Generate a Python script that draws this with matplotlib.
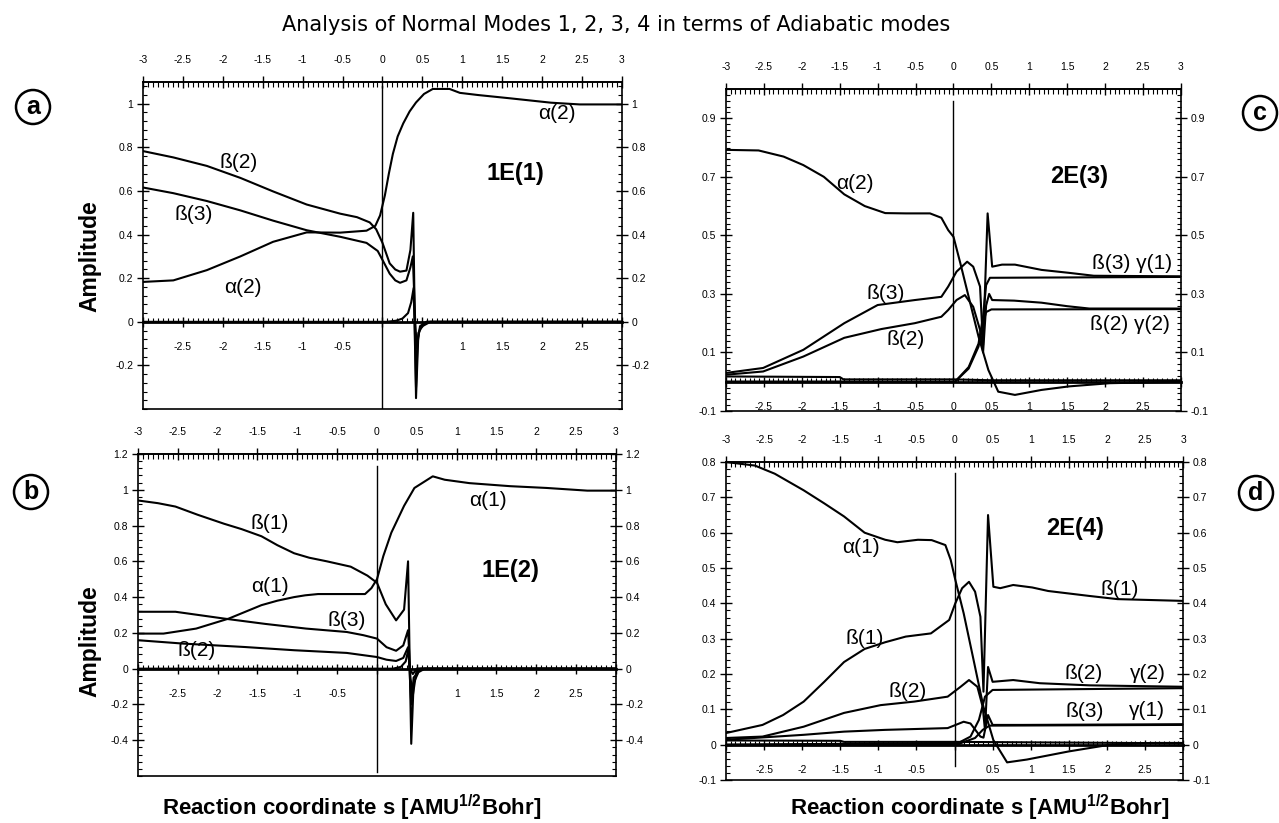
import matplotlib.pyplot as plt
from matplotlib.ticker import MultipleLocator, AutoMinorLocator, FixedLocator, FuncFormatter

plt.rcParams['font.family'] = ['Liberation Sans', 'DejaVu Sans']
plt.rcParams['mathtext.fontset'] = 'custom'
plt.rcParams['mathtext.rm'] = 'Liberation Sans'
plt.rcParams['mathtext.bf'] = 'Liberation Sans:bold'

# ==================== (a) mode 1E(1) ====================
a_alpha2_s = [-3, -2.62, -2.2, -1.78, -1.37, -0.95, -0.87, -0.53, -0.2, -0.09, -0.03, 0.03, 0.08,
              0.13, 0.19, 0.26, 0.34, 0.42, 0.52, 0.63, 0.84, 0.97, 1.2, 1.6, 2.11, 2.47, 3.0]
a_alpha2 = [0.183, 0.19, 0.237, 0.30, 0.367, 0.41, 0.41, 0.409, 0.418, 0.44, 0.488, 0.58, 0.68,
            0.77, 0.85, 0.91, 0.965, 1.006, 1.045, 1.068, 1.068, 1.05, 1.04, 1.025, 1.005, 0.997,
            0.997]
a_beta2_s = [-3, -2.62, -2.2, -1.78, -1.37, -0.95, -0.53, -0.32, -0.16, -0.08, 0.0, 0.09, 0.16,
             0.22, 0.30, 0.35, 0.385, 0.40, 0.42, 0.45, 0.5, 0.6, 3.0]
a_beta2 = [0.783, 0.754, 0.715, 0.66, 0.598, 0.538, 0.496, 0.48, 0.456, 0.425, 0.362, 0.268, 0.24,
           0.23, 0.235, 0.33, 0.50, 0.12, -0.35, -0.05, -0.02, 0.0, 0.0]
a_beta3_s = [-3, -2.62, -2.2, -1.78, -1.37, -0.95, -0.53, -0.2, -0.06, 0.0, 0.09, 0.16, 0.22, 0.30,
             0.35, 0.38, 0.41, 0.43, 0.47, 0.55, 3.0]
a_beta3 = [0.616, 0.59, 0.554, 0.511, 0.464, 0.42, 0.39, 0.362, 0.325, 0.284, 0.221, 0.19, 0.179,
           0.19, 0.25, 0.30, 0.0, -0.12, -0.02, 0.0, 0.0]
a_other_s = [-3, 0.05, 0.17, 0.25, 0.32, 0.36, 0.39, 0.42, 0.44, 0.47, 0.55, 3.0]
a_other = [0.0, 0.0, 0.005, 0.015, 0.04, 0.09, 0.155, -0.3, -0.08, -0.03, 0.0, 0.0]
a_yticks = [-0.2, 0, 0.2, 0.4, 0.6, 0.8, 1]

# ==================== (b) mode 1E(2) ====================
b_alpha1_s = [-3, -2.68, -2.27, -1.86, -1.45, -1.25, -1.04, -0.9, -0.74, -0.15, -0.07, 0.0, 0.08,
              0.18, 0.34, 0.47, 0.70, 0.85, 1.16, 1.67, 2.13, 2.64, 3.0]
b_alpha1 = [0.196, 0.196, 0.224, 0.28, 0.355, 0.38, 0.40, 0.41, 0.417, 0.417, 0.45, 0.50, 0.63,
            0.76, 0.91, 1.01, 1.075, 1.056, 1.037, 1.02, 1.01, 0.995, 0.995]
b_beta1_s = [-3, -2.75, -2.53, -2.25, -1.92, -1.7, -1.45, -1.25, -1.04, -0.85, -0.63, -0.33, -0.12,
             0.0, 0.11, 0.24, 0.34, 0.39, 0.41, 0.43, 0.46, 0.52, 0.6, 3.0]
b_beta1 = [0.94, 0.925, 0.906, 0.86, 0.81, 0.78, 0.74, 0.69, 0.645, 0.62, 0.60, 0.57, 0.52, 0.48,
           0.36, 0.27, 0.33, 0.60, 0.05, -0.42, -0.08, -0.02, 0.0, 0.0]
b_beta3_s = [-3, -2.53, -1.92, -1.4, -0.89, -0.38, -0.17, 0.0, 0.12, 0.24, 0.33, 0.39, 0.42,
             0.45, 0.5, 3.0]
b_beta3 = [0.318, 0.318, 0.28, 0.25, 0.224, 0.205, 0.187, 0.168, 0.12, 0.10, 0.13, 0.215, -0.05,
           -0.15, 0.0, 0.0]
b_beta2_s = [-3, -2.43, -1.66, -1.04, -0.38, 0.0, 0.12, 0.24, 0.33, 0.39, 0.41, 0.45, 0.5, 3.0]
b_beta2 = [0.159, 0.14, 0.121, 0.103, 0.088, 0.065, 0.05, 0.043, 0.06, 0.12, 0.0, -0.03, 0.0, 0.0]
b_other_s = [-3, 0.2, 0.3, 0.36, 0.395, 0.43, 0.46, 0.55, 3.0]
b_other = [0.0, 0.0, 0.01, 0.04, 0.11, -0.2, -0.05, 0.0, 0.0]
b_yticks = [-0.4, -0.2, 0, 0.2, 0.4, 0.6, 0.8, 1, 1.2]

# ==================== (c) mode 2E(3) ====================
c_alpha2_s = [-3, -2.57, -2.24, -1.98, -1.71, -1.44, -1.17, -0.9, -0.63, -0.31, -0.16, -0.07, 0.0,
              0.09, 0.2, 0.33, 0.46, 0.59, 0.81, 1.16, 1.52, 2.06, 3.0]
c_alpha2 = [0.792, 0.79, 0.769, 0.74, 0.70, 0.64, 0.60, 0.576, 0.575, 0.575, 0.56, 0.518, 0.495,
            0.405, 0.29, 0.154, 0.04, -0.034, -0.045, -0.028, -0.016, -0.005, 0.0]
c_beta3_s = [-3, -2.51, -1.98, -1.44, -1.0, -0.51, -0.16, -0.07, 0.04, 0.18, 0.26, 0.35, 0.39,
             0.45, 0.51, 0.64, 0.81, 1.16, 1.52, 1.85, 3.0]
c_beta3 = [0.03, 0.047, 0.109, 0.2, 0.262, 0.279, 0.29, 0.325, 0.376, 0.41, 0.393, 0.325, 0.125,
           0.575, 0.393, 0.40, 0.40, 0.382, 0.372, 0.362, 0.36]
c_beta2_s = [-3, -2.51, -1.98, -1.44, -0.95, -0.51, -0.16, -0.07, 0.04, 0.15, 0.26, 0.35, 0.39,
             0.43, 0.47, 0.51, 0.8, 1.16, 1.5, 1.79, 3.0]
c_beta2 = [0.024, 0.035, 0.086, 0.15, 0.18, 0.2, 0.222, 0.245, 0.279, 0.296, 0.256, 0.177, 0.10,
           0.26, 0.30, 0.279, 0.277, 0.27, 0.258, 0.25, 0.25]
c_gamma1_s = [-3, 0.0, 0.02, 0.2, 0.33, 0.39, 0.43, 0.48, 3.0]
c_gamma1 = [0.0, 0.0, 0.0, 0.05, 0.13, 0.222, 0.33, 0.355, 0.358]
c_gamma2_s = [-3, 0.0, 0.02, 0.2, 0.33, 0.39, 0.43, 0.5, 3.0]
c_gamma2 = [0.0, 0.0, 0.0, 0.045, 0.12, 0.2, 0.238, 0.247, 0.248]
c_other_s = [-3, -1.5, -1.45, 0.0, 0.5, 3.0]
c_other = [0.018, 0.016, 0.008, 0.008, 0.005, 0.005]
c_yticks = [-0.1, 0.1, 0.3, 0.5, 0.7, 0.9]

# ==================== (d) mode 2E(4) ====================
d_alpha1_s = [-3, -2.62, -2.36, -1.98, -1.71, -1.45, -1.18, -0.91, -0.75, -0.48, -0.3, -0.12,
              -0.05, 0.01, 0.12, 0.25, 0.38, 0.51, 0.69, 0.95, 1.5, 2.04, 2.57, 3.0]
d_alpha1 = [0.8, 0.79, 0.767, 0.72, 0.683, 0.646, 0.60, 0.58, 0.573, 0.58, 0.579, 0.565,
            0.523, 0.467, 0.372, 0.24, 0.107, 0.013, -0.05, -0.042, -0.019, 0.0, 0.005, 0.005]
d_beta1_s = [-3, -2.52, -2.25, -1.98, -1.71, -1.45, -1.18, -0.91, -0.64, -0.31, -0.07, 0.01, 0.1,
             0.19, 0.27, 0.34, 0.38, 0.44, 0.51, 0.6, 0.77, 1.02, 1.23, 1.77, 2.14, 3.0]
d_beta1 = [0.033, 0.056, 0.084, 0.122, 0.178, 0.234, 0.271, 0.29, 0.306, 0.315, 0.353, 0.40,
           0.443, 0.461, 0.433, 0.362, 0.15, 0.65, 0.447, 0.443, 0.452, 0.445, 0.435, 0.421,
           0.412, 0.407]
d_beta2_s = [-3, -2.52, -1.98, -1.45, -0.97, -0.53, -0.09, 0.08, 0.19, 0.3, 0.37, 0.40, 0.44, 0.5,
             0.77, 1.12, 1.77, 3.0]
d_beta2 = [0.019, 0.023, 0.051, 0.09, 0.112, 0.122, 0.136, 0.164, 0.183, 0.164, 0.107, 0.041,
           0.22, 0.178, 0.183, 0.174, 0.168, 0.164]
d_gamma2_s = [-3, 0.05, 0.21, 0.32, 0.40, 0.5, 3.0]
d_gamma2 = [0.0, 0.005, 0.023, 0.07, 0.136, 0.155, 0.16]
d_beta3_s = [-3, -1.98, -1.45, -0.91, -0.09, 0.12, 0.21, 0.34, 0.38, 0.44, 0.5, 0.9, 3.0]
d_beta3 = [0.014, 0.028, 0.037, 0.042, 0.047, 0.065, 0.06, 0.023, 0.02, 0.084, 0.056, 0.056, 0.058]
d_gamma1_s = [-3, 0.05, 0.27, 0.37, 0.46, 3.0]
d_gamma1 = [0.0, 0.002, 0.019, 0.042, 0.054, 0.056]
d_other_s = [-3, -1.5, -1.45, 0.0, 3.0]
d_other = [0.012, 0.011, 0.008, 0.008, 0.004]
d_yticks = [-0.1, 0, 0.1, 0.2, 0.3, 0.4, 0.5, 0.6, 0.7, 0.8]

TICK_FS = 7.5
LABEL_FS = 15
MODE_FS = 17


def fmt(v):
    return f'{v:g}'


def style_panel(ax, ylim, yticks, yminor, skip, vline):
    ax.set_xlim(-3, 3)
    ax.set_ylim(*ylim)

    # inner s-axis sits on the zero line, frame closed by a plain line
    ax.spines['bottom'].set_position(('data', 0))
    ax.spines['bottom'].set_linewidth(2.0)
    for side in ('left', 'right', 'top'):
        ax.spines[side].set_linewidth(1.2)
    ax.plot([0, 1], [0, 0], transform=ax.transAxes, color='k', lw=1.2, clip_on=False)

    ax.xaxis.set_major_locator(MultipleLocator(0.5))
    ax.xaxis.set_minor_locator(AutoMinorLocator(8))
    hidden = [-3, 3] + skip
    ax.xaxis.set_major_formatter(FuncFormatter(
        lambda v, p: '' if any(abs(v - h) < 1e-6 for h in hidden) else fmt(v)))
    ax.tick_params(axis='x', which='major', direction='inout', length=7, width=1.0,
                   labelsize=TICK_FS, pad=11, top=False)
    ax.tick_params(axis='x', which='minor', direction='in', length=3, width=0.8, top=False)

    ax.yaxis.set_major_locator(FixedLocator(yticks))
    ax.yaxis.set_minor_locator(MultipleLocator(yminor))
    ax.yaxis.set_major_formatter(FuncFormatter(lambda v, p: fmt(round(v, 3))))
    ax.tick_params(axis='y', which='both', left=True, right=True, labelleft=True, labelright=True)
    ax.tick_params(axis='y', which='major', direction='inout', length=8, width=1.0,
                   labelsize=TICK_FS, pad=3)
    ax.tick_params(axis='y', which='minor', direction='in', length=3, width=0.8)

    top = ax.secondary_xaxis('top')
    top.xaxis.set_major_locator(MultipleLocator(0.5))
    top.xaxis.set_minor_locator(AutoMinorLocator(8))
    top.xaxis.set_major_formatter(FuncFormatter(lambda v, p: fmt(v)))
    top.tick_params(which='major', direction='inout', length=8, width=1.0, labelsize=TICK_FS, pad=8)
    top.tick_params(which='minor', direction='in', length=3.5, width=0.8)
    top.spines['top'].set_linewidth(1.2)

    # transition state marker at s = 0
    ax.plot([0, 0], vline, color='k', lw=1.0)


def curve(ax, s, v):
    ax.plot(s, v, color='k', lw=1.5, solid_joinstyle='round')


def label(ax, x, y, txt, size=LABEL_FS, **kw):
    ax.text(x, y, txt, ha='center', va='center', fontsize=size, **kw)


fig = plt.figure(figsize=(12.79, 8.23), dpi=100)
ax_a = fig.add_axes([0.1118, 0.503, 0.3745, 0.3974])
ax_c = fig.add_axes([0.5676, 0.5006, 0.3558, 0.3913])
ax_b = fig.add_axes([0.1079, 0.0571, 0.3737, 0.3913])
ax_d = fig.add_axes([0.5676, 0.0522, 0.3574, 0.3864])

# ==================== (a) ====================
style_panel(ax_a, (-0.4, 1.1), a_yticks, 0.04, [0, 0.5], (-0.4, 1.08))
for s, v in [(a_alpha2_s, a_alpha2), (a_beta2_s, a_beta2), (a_beta3_s, a_beta3),
             (a_other_s, a_other)]:
    curve(ax_a, s, v)
label(ax_a, -1.80, 0.73, 'ß(2)')
label(ax_a, -2.36, 0.49, 'ß(3)')
label(ax_a, -1.75, 0.157, 'α(2)')
label(ax_a, 2.18, 0.955, 'α(2)')
label(ax_a, 1.67, 0.68, '1E(1)', size=MODE_FS, fontweight='bold')

# ==================== (b) ====================
style_panel(ax_b, (-0.6, 1.2), b_yticks, 0.04, [0, 0.5], (-0.58, 1.13))
for s, v in [(b_alpha1_s, b_alpha1), (b_beta1_s, b_beta1), (b_beta3_s, b_beta3),
             (b_beta2_s, b_beta2), (b_other_s, b_other)]:
    curve(ax_b, s, v)
label(ax_b, -1.35, 0.81, 'ß(1)')
label(ax_b, 1.39, 0.94, 'α(1)')
label(ax_b, -1.35, 0.46, 'α(1)')
label(ax_b, -0.38, 0.27, 'ß(3)')
label(ax_b, -2.27, 0.10, 'ß(2)')
label(ax_b, 1.67, 0.55, '1E(2)', size=MODE_FS, fontweight='bold')

# ==================== (c) ====================
style_panel(ax_c, (-0.1, 1.0), c_yticks, 0.02, [], (0.0, 0.96))
for s, v in [(c_alpha2_s, c_alpha2), (c_beta3_s, c_beta3), (c_beta2_s, c_beta2),
             (c_gamma1_s, c_gamma1), (c_gamma2_s, c_gamma2), (c_other_s, c_other)]:
    curve(ax_c, s, v)
label(ax_c, -1.30, 0.678, 'α(2)')
label(ax_c, -0.90, 0.30, 'ß(3)')
label(ax_c, -0.63, 0.143, 'ß(2)')
label(ax_c, 2.36, 0.405, 'ß(3) γ(1)')
label(ax_c, 2.33, 0.196, 'ß(2) γ(2)')
label(ax_c, 1.66, 0.70, '2E(3)', size=MODE_FS, fontweight='bold')

# ==================== (d) ====================
style_panel(ax_d, (-0.1, 0.8), d_yticks, 0.02, [0], (-0.06, 0.77))
for s, v in [(d_alpha1_s, d_alpha1), (d_beta1_s, d_beta1), (d_beta2_s, d_beta2),
             (d_gamma2_s, d_gamma2), (d_beta3_s, d_beta3), (d_gamma1_s, d_gamma1),
             (d_other_s, d_other)]:
    curve(ax_d, s, v)
label(ax_d, -1.23, 0.557, 'α(1)')
label(ax_d, -1.18, 0.30, 'ß(1)')
label(ax_d, 2.17, 0.44, 'ß(1)')
label(ax_d, -0.62, 0.15, 'ß(2)')
label(ax_d, 1.69, 0.201, 'ß(2)')
label(ax_d, 2.54, 0.201, 'γ(2)')
label(ax_d, 1.71, 0.094, 'ß(3)')
label(ax_d, 2.52, 0.098, 'γ(1)')
label(ax_d, 1.58, 0.613, '2E(4)', size=MODE_FS, fontweight='bold')

# ==================== Figure texts ====================
fig.text(0.482, 0.9696, 'Analysis of Normal Modes 1, 2, 3, 4 in terms of Adiabatic modes',
         ha='center', va='center', fontsize=15, family=['DejaVu Sans'])
for y in (256, 641):
    fig.text(90 / 1279, 1 - y / 823, 'Amplitude', rotation=90, ha='center', va='center',
             fontsize=16.5, fontweight='bold')
xlab = r'Reaction coordinate s [AMU$^{\mathbf{1/2}}$Bohr]'
for x in (352, 980):
    fig.text(x / 1279, 0.018, xlab, ha='center', va='center', fontsize=16, fontweight='bold')

for x, y, letter in [(33, 107, 'a'), (31, 492, 'b'), (1260, 113, 'c'), (1256, 493, 'd')]:
    fig.text(x / 1279, 1 - y / 823, letter, ha='center', va='center', fontsize=18,
             fontweight='bold',
             bbox=dict(boxstyle='circle,pad=0.2', fc='white', ec='black', lw=1.8))

fig.savefig('out.png', dpi=100)
